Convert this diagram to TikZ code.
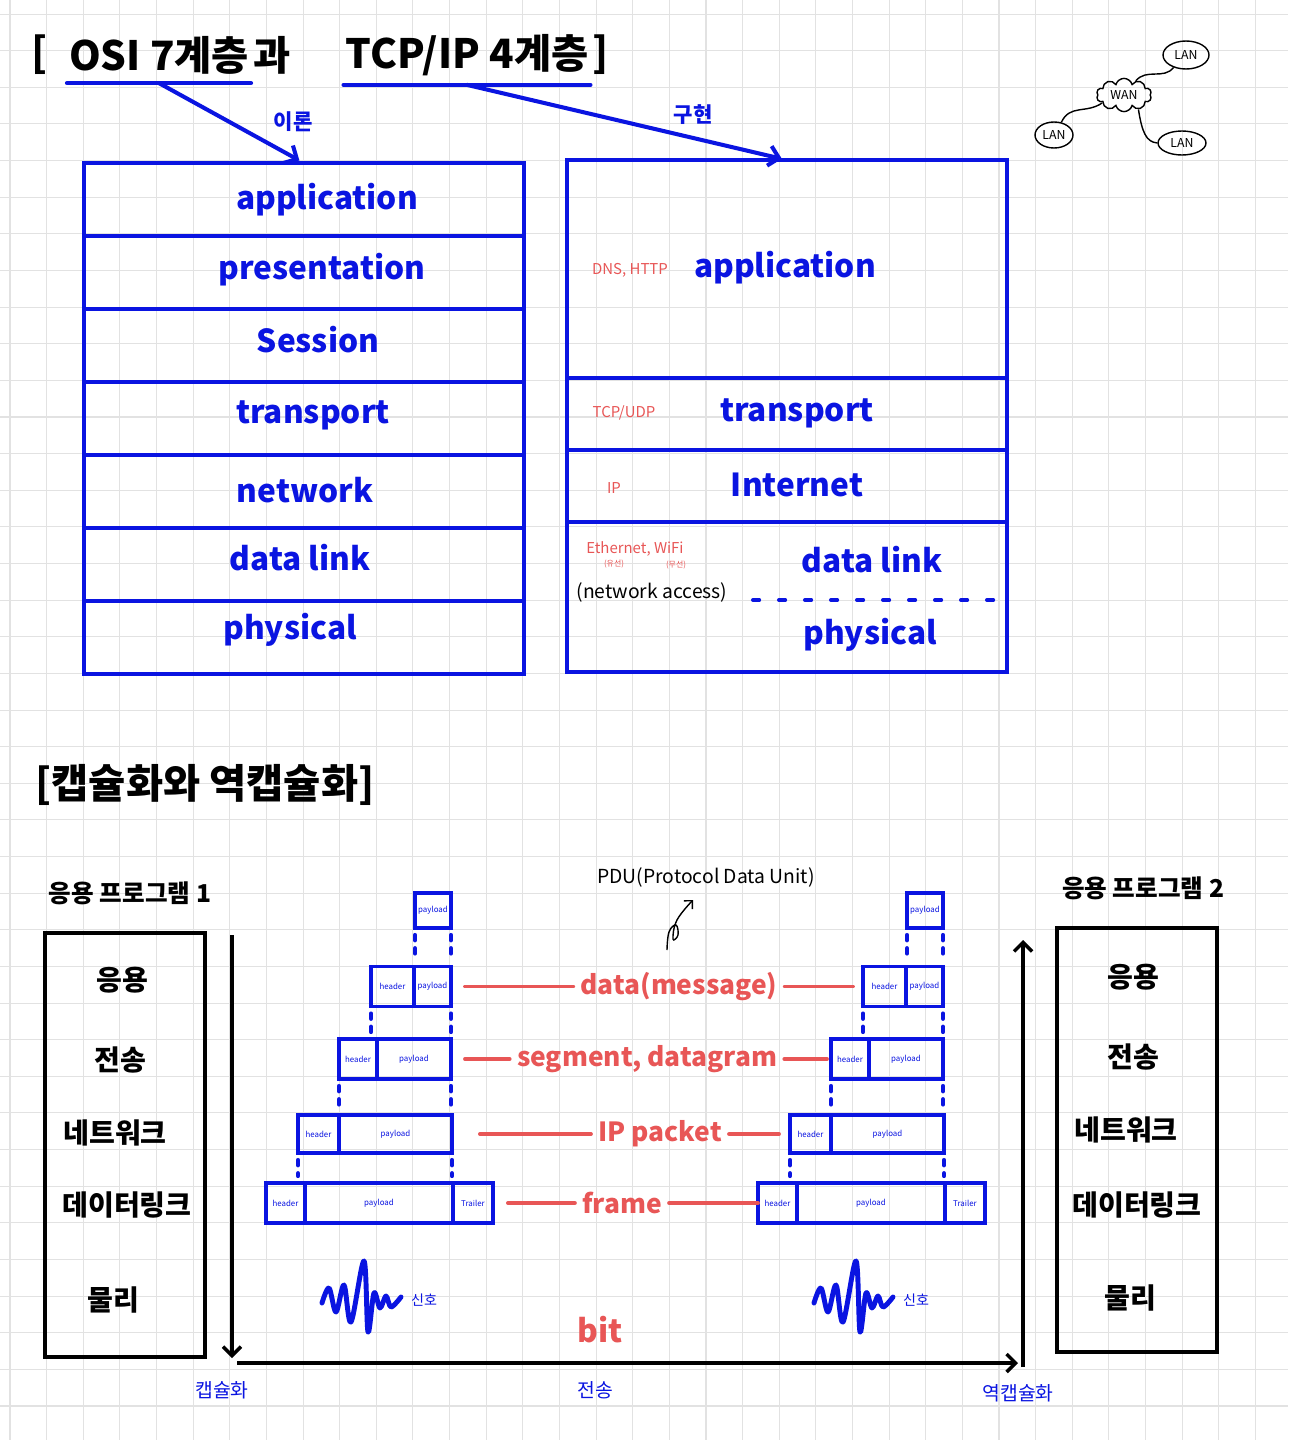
\documentclass[tikz,border=0pt]{standalone}
\usepackage{fontspec}
\setmainfont{Noto Sans CJK KR}
\usepackage{tikz}
\usetikzlibrary{arrows.meta,positioning,shapes.geometric,shapes.symbols}

\definecolor{penblue}{RGB}{10,20,225}
\definecolor{penred}{RGB}{232,86,86}
\definecolor{gridgray}{RGB}{226,226,226}

\begin{document}
\begin{tikzpicture}[x=0.02cm, y=-0.02cm,
  gridline/.style={draw=gridgray, line width=0.6pt},
  ttl/.style={font=\fontsize{23}{26}\selectfont\bfseries, inner sep=1pt},
  layerbox/.style={rectangle, draw=penblue, line width=2.3pt, outer sep=0pt, minimum width=8.8cm},
  layerlbl/.style={font=\fontsize{18}{20}\selectfont\bfseries, text=penblue, inner sep=1pt},
  protolbl/.style={font=\fontsize{8.5}{10}\selectfont, text=penred, inner sep=1pt},
  wirelbl/.style={font=\fontsize{4.5}{5}\selectfont, text=penred, inner sep=0pt},
  blacknote/.style={font=\fontsize{11}{12}\selectfont, inner sep=1pt},
  boldnote/.style={font=\fontsize{12}{14}\selectfont\bfseries, text=penblue, inner sep=1pt},
  thinnote/.style={font=\fontsize{11}{12}\selectfont, text=penblue, inner sep=1pt},
  signote/.style={font=\fontsize{8}{9}\selectfont, text=penblue, inner sep=1pt},
  penline/.style={draw=penblue, line width=2.3pt, line cap=round},
  penarrow/.style={penline, -{Straight Barb[length=2mm,width=4mm]}, shorten >=3pt},
  dashdiv/.style={penline, dash pattern=on 3.5pt off 11.3pt},
  appttl/.style={font=\fontsize{14}{16}\selectfont\bfseries, inner sep=1pt},
  appbox/.style={rectangle, draw=black, line width=2pt, minimum width=3.2cm, minimum height=8.48cm},
  kor/.style={font=\fontsize{16}{18}\selectfont\bfseries, inner sep=1pt},
  cell/.style={rectangle, draw=penblue, line width=2pt, outer sep=0pt, inner sep=0pt,
    font=\fontsize{4.5}{5}\selectfont, text=penblue},
  dots/.style={draw=penblue, line width=2.4pt, line cap=round, dash pattern=on 3pt off 4.5pt,
    shorten <=4pt, shorten >=4pt},
  pdulbl/.style={font=\fontsize{15}{17}\selectfont\bfseries, text=penred, inner sep=0.14cm},
  redline/.style={draw=penred, line width=2.2pt, line cap=round},
  wave/.style={draw=penblue, line width=2.8pt, line cap=round, line join=round},
  flowarrow/.style={draw=black, line width=2pt, -{Straight Barb[length=1.8mm,width=3.6mm]}},
  curl/.style={draw=black, line width=0.8pt, -{Straight Barb[length=1.2mm,width=2.4mm]}},
  lan/.style={ellipse, draw=black, line width=0.8pt, inner sep=0pt, font=\fontsize{7}{8}\selectfont},
  netline/.style={draw=black, line width=0.8pt}
]

% grid paper
\useasboundingbox (0,0) rectangle (1288,1440);
\fill[white] (0,0) rectangle (1288,1440);
\foreach \i in {0,...,34} \draw[gridline] (10+\i*36.63,0) -- (10+\i*36.63,1440);
\foreach \j in {0,...,38} \draw[gridline] (0,14.05+\j*36.63) -- (1288,14.05+\j*36.63);

% title
\node[ttl] (osiT) at (159,55) {OSI 7계층};
\node[ttl, left=0.35cm of osiT] (brk1) {[};
\node[ttl, right=0pt of osiT] (gwa) {과};
\node[ttl] (tcpT) at (467,55) {TCP/IP 4계층};
\node[ttl, right=0pt of tcpT] (brk2) {]};
\draw[penline] ([yshift=-4pt]osiT.south west) -- ([yshift=-4pt]osiT.south east);
\draw[penline] ([yshift=-4pt]tcpT.south west) -- ([yshift=-4pt]tcpT.south east);

% OSI 7 layers
\node[layerbox, minimum height=1.46cm] (osi1) at (304,199.5) {};
\node[layerbox, minimum height=1.46cm] (osi2) at (304,272.5) {};
\node[layerbox, minimum height=1.46cm] (osi3) at (304,345.5) {};
\node[layerbox, minimum height=1.46cm] (osi4) at (304,418.5) {};
\node[layerbox, minimum height=1.46cm] (osi5) at (304,491.5) {};
\node[layerbox, minimum height=1.46cm] (osi6) at (304,564.5) {};
\node[layerbox, minimum height=1.46cm] (osi7) at (304,637.5) {};
\node[layerlbl] (osiApp) at (327,200) {application};
\node[layerlbl] (osiPre) at (322,270) {presentation};
\node[layerlbl] (osiSes) at (318,340) {Session};
\node[layerlbl] (osiTra) at (313,415) {transport};
\node[layerlbl] (osiNet) at (305,490) {network};
\node[layerlbl] (osiDat) at (300,558) {data link};
\node[layerlbl] (osiPhy) at (290,630) {physical};

% TCP/IP 4 layers
\node[layerbox, minimum height=4.36cm] (tcp1) at (787,269) {};
\node[layerbox, minimum height=1.44cm] (tcp2) at (787,414) {};
\node[layerbox, minimum height=1.44cm] (tcp3) at (787,486) {};
\node[layerbox, minimum height=3.0cm] (tcp4) at (787,597) {};
\node[layerlbl] (tcpApp) at (785,268) {application};
\node[layerlbl] (tcpTra) at (797,413) {transport};
\node[layerlbl] (tcpInt) at (797,485) {Internet};
\node[layerlbl] (tcpDat) at (872,560) {data link};
\node[layerlbl] (tcpPhy) at (870,635) {physical};
\draw[dashdiv] (753,600) -- (997,600);
\node[protolbl] (dns) at (630,270) {DNS, HTTP};
\node[protolbl] (tcpudp) at (624,413) {TCP/UDP};
\node[protolbl] (ip) at (614,488) {IP};
\node[protolbl] (eth) at (635,549) {Ethernet, WiFi};
\node[wirelbl] (wired) at (614,564) {(유선)};
\node[wirelbl] (wless) at (676,565) {(무선)};
\node[blacknote] (access) at (652,592) {(network access)};

\draw[penarrow] ([yshift=-4pt]osiT.south) -- (osi1.north);
\draw[penarrow] ([yshift=-4pt]tcpT.south) -- (tcp1.north);
\node[boldnote] (theory) at (293,122) {이론};
\node[boldnote] (impl) at (693,115) {구현};

% LAN / WAN
\node[cloud, draw=black, line width=0.8pt, cloud puffs=10, aspect=1.8, inner sep=1pt,
  minimum width=1.1cm, minimum height=0.6cm, font=\fontsize{7}{8}\selectfont] (wan) at (1124,95) {WAN};
\node[lan, minimum width=0.92cm, minimum height=0.56cm] (lanA) at (1186,55) {LAN};
\node[lan, minimum width=0.76cm, minimum height=0.52cm] (lanB) at (1054,135) {LAN};
\node[lan, minimum width=0.96cm, minimum height=0.48cm] (lanC) at (1182,143) {LAN};
\draw[netline] (wan.50) .. controls (1146,68) and (1164,80) .. (lanA.225);
\draw[netline] (wan.200) .. controls (1086,114) and (1070,104) .. (lanB.60);
\draw[netline] (wan.-45) .. controls (1142,132) and (1146,142) .. (lanC.180);

% encapsulation
\node[ttl] (encT) at (205,785) {[캡슐화와 역캡슐화]};
\node[appttl] (app1T) at (130,893) {응용 프로그램 1};
\node[appttl] (app2T) at (1143,888) {응용 프로그램 2};
\node[appbox] (app1) at (125,1145) {};
\node[appbox] (app2) at (1137,1140) {};
\node[kor] (a1app) at (122,980) {응용};
\node[kor] (a1tra) at (120,1060) {전송};
\node[kor] (a1net) at (115,1133) {네트워크};
\node[kor] (a1dat) at (127,1205) {데이터링크};
\node[kor] (a1phy) at (113,1300) {물리};
\node[kor] (a2app) at (1133,977) {응용};
\node[kor] (a2tra) at (1133,1057) {전송};
\node[kor] (a2net) at (1126,1130) {네트워크};
\node[kor] (a2dat) at (1137,1205) {데이터링크};
\node[kor] (a2phy) at (1130,1298) {물리};

\foreach \s/\dx in {l/0, r/492} {
  \begin{scope}[shift={(\dx,0)}]
    \node[cell, minimum width=0.72cm, minimum height=0.70cm] (p1\s) at (433,910.5) {payload};
    \node[cell, minimum width=0.86cm, minimum height=0.80cm] (h2\s) at (392.5,986.5) {header};
    \node[cell, minimum width=0.74cm, minimum height=0.80cm, right=0pt of h2\s] (p2\s) {payload};
    \node[cell, minimum width=0.76cm, minimum height=0.80cm] (h3\s) at (358,1059) {header};
    \node[cell, minimum width=1.48cm, minimum height=0.80cm, right=0pt of h3\s] (p3\s) {payload};
    \node[cell, minimum width=0.82cm, minimum height=0.76cm] (h4\s) at (318.5,1134) {header};
    \node[cell, minimum width=2.26cm, minimum height=0.76cm, right=0pt of h4\s] (p4\s) {payload};
    \node[cell, minimum width=0.78cm, minimum height=0.80cm] (h5\s) at (285.5,1203) {header};
    \node[cell, minimum width=2.96cm, minimum height=0.80cm, right=0pt of h5\s] (p5\s) {payload};
    \node[cell, minimum width=0.80cm, minimum height=0.80cm, right=0pt of p5\s] (t5\s) {Trailer};
    \draw[dots] (p1\s.south west) -- (p1\s.south west |- h2\s.north);
    \draw[dots] (p1\s.south east) -- (p1\s.south east |- h2\s.north);
    \draw[dots] (h2\s.south west) -- (h2\s.south west |- h3\s.north);
    \draw[dots] (p2\s.south east) -- (p2\s.south east |- h3\s.north);
    \draw[dots] (h3\s.south west) -- (h3\s.south west |- h4\s.north);
    \draw[dots] (p3\s.south east) -- (p3\s.south east |- h4\s.north);
    \draw[dots] (h4\s.south west) -- (h4\s.south west |- h5\s.north);
    \draw[dots] (p4\s.south east) -- (p4\s.south east |- h5\s.north);
    % signal
    \draw[wave] plot[smooth, tension=0.55] coordinates {(322,1303) (329,1288) (336,1312) (344,1285)
      (351,1322) (364,1261) (368,1332) (374,1293) (380,1308) (386,1296) (391,1307) (401,1297)};
    \node[signote] (sig\s) at (424,1300) {신호};
  \end{scope}
}

% PDU names
\node[blacknote] (pdunote) at (706,877) {PDU(Protocol Data Unit)};
\coordinate (curlTail) at (667,950);
\draw[curl] plot[smooth, tension=0.7] coordinates {(curlTail) (669,932) (676,925) (678,935) (673,939) (677,920) (693,900)};

\node[pdulbl] (msg) at (679,986.5) {data(message)};
\draw[redline, shorten <=0.28cm] (p2l.east) -- (msg.west);
\draw[redline, shorten >=0.2cm] (msg.east) -- (h2r.west);
\node[pdulbl] (seg) at (647,1059) {segment, datagram};
\draw[redline, shorten <=0.28cm] (p3l.east) -- (seg.west);
\draw[redline, shorten >=0.08cm] (seg.east) -- (h3r.west);
\node[pdulbl] (pkt) at (660,1134) {IP packet};
\draw[redline, shorten <=0.56cm] (p4l.east) -- (pkt.west);
\draw[redline, shorten >=0.22cm] (pkt.east) -- (h4r.west);
\node[pdulbl] (frm) at (622,1203) {frame};
\draw[redline, shorten <=0.3cm] (t5l.east) -- (frm.west);
\draw[redline] (frm.east) -- (h5r.west);
\node[font=\fontsize{18}{20}\selectfont\bfseries, text=penred] (bit) at (600,1330) {bit};

% flow
\coordinate (encTop) at (232,935);
\coordinate (encBot) at (232,1358);
\coordinate (xmitL) at (237,1363);
\coordinate (xmitR) at (1018,1363);
\coordinate (decBot) at (1023,1367);
\coordinate (decTop) at (1023,940);
\draw[flowarrow] (encTop) -- (encBot);
\draw[flowarrow] (xmitL) -- (xmitR);
\draw[flowarrow] (decBot) -- (decTop);
\node[thinnote] (encLbl) at (222,1390) {캡슐화};
\node[thinnote] (xmitLbl) at (595,1390) {전송};
\node[thinnote] (decLbl) at (1018,1393) {역캡슐화};

\end{tikzpicture}
\end{document}
